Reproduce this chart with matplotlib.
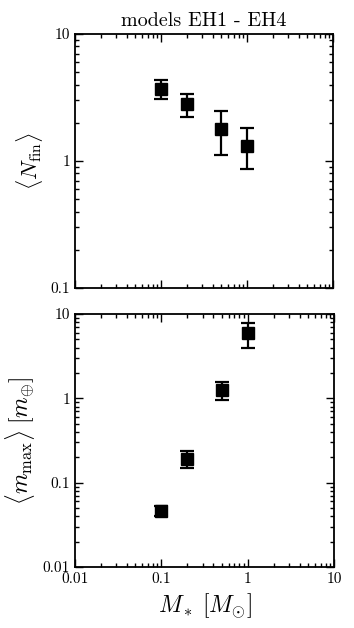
import numpy as np
import matplotlib
matplotlib.use("Agg")
import matplotlib.pyplot as plt
from matplotlib.ticker import FixedLocator, FixedFormatter, LogLocator, NullFormatter

plt.rcParams["font.family"] = "serif"
plt.rcParams["font.serif"] = ["cmr10", "DejaVu Serif"]
plt.rcParams["mathtext.fontset"] = "cm"
plt.rcParams["axes.formatter.use_mathtext"] = True

# stellar mass [M_sun]
mstar = [0.1, 0.2, 0.5, 1.0]

# <N_fin> with lower / upper error bar ends
nfin = [3.67, 2.79, 1.80, 1.32]
nfin_lo = [3.06, 2.21, 1.12, 0.86]
nfin_hi = [4.32, 3.39, 2.46, 1.81]

# <m_max> [m_earth]
mmax = [0.046, 0.193, 1.27, 5.95]
mmax_lo = [0.040, 0.149, 0.955, 3.99]
mmax_hi = [0.053, 0.237, 1.56, 7.76]

ticks = [0.01, 0.1, 1, 10]
tick_labels = ["0.01", "0.1", "1", "10"]

fig = plt.figure(figsize=(3.54, 6.28), dpi=100)
ax1 = fig.add_axes([75/354, 1-288/628, 258/354, 254/628])
ax2 = fig.add_axes([75/354, 1-567/628, 259/354, 253/628])


def style(ax):
    ax.set_xscale("log")
    ax.set_yscale("log")
    ax.set_xlim(0.01, 10)
    ax.tick_params(which="both", direction="in", top=True, right=True,
                   labelsize=11, width=1.0)
    ax.tick_params(which="major", length=6)
    ax.tick_params(which="minor", length=3)
    ax.xaxis.set_minor_locator(LogLocator(base=10, subs=np.arange(2, 10)))
    ax.yaxis.set_minor_locator(LogLocator(base=10, subs=np.arange(2, 10)))
    ax.xaxis.set_minor_formatter(NullFormatter())
    ax.yaxis.set_minor_formatter(NullFormatter())
    for s in ax.spines.values():
        s.set_linewidth(1.3)


def errplot(ax, y, lo, hi):
    y = np.array(y)
    yerr = [y - np.array(lo), np.array(hi) - y]
    ax.errorbar(mstar, y, yerr=yerr, fmt="s", color="black", ms=8,
                capsize=5, elinewidth=1.6, capthick=1.6)


# top panel
style(ax1)
errplot(ax1, nfin, nfin_lo, nfin_hi)
ax1.set_ylim(0.1, 10)
ax1.yaxis.set_major_locator(FixedLocator(ticks[1:]))
ax1.yaxis.set_major_formatter(FixedFormatter(tick_labels[1:]))
ax1.xaxis.set_major_formatter(NullFormatter())
ax1.set_ylabel(r"$\langle N_{\rm fin}\rangle$", fontsize=16)
ax1.set_title("models EH1 - EH4", fontsize=14.5, pad=6)

# bottom panel
style(ax2)
errplot(ax2, mmax, mmax_lo, mmax_hi)
ax2.set_ylim(0.01, 10)
ax2.yaxis.set_major_locator(FixedLocator(ticks))
ax2.yaxis.set_major_formatter(FixedFormatter(tick_labels))
ax2.xaxis.set_major_locator(FixedLocator(ticks))
ax2.xaxis.set_major_formatter(FixedFormatter(tick_labels))
ax2.set_ylabel(r"$\langle m_{\rm max}\rangle\;[m_{\oplus}]$", fontsize=17)
ax2.set_xlabel(r"$M_*\;[M_{\odot}]$", fontsize=17)

fig.savefig("out.png", dpi=100)
